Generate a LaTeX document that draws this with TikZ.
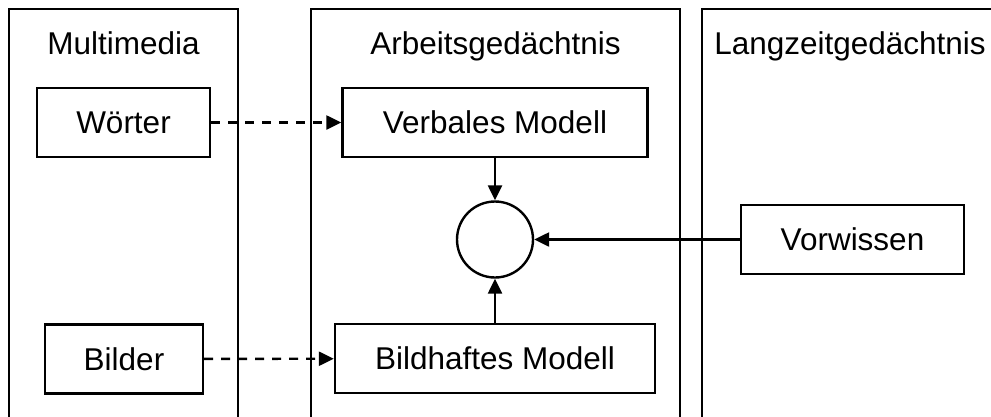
\documentclass[tikz,border=0pt]{standalone}
\usepackage{fontspec}
\setmainfont{Liberation Sans}
\usetikzlibrary{positioning}
\usetikzlibrary{arrows.meta}
\tikzset{x=1pt, y=-1pt,
column/.style={ % Sets the properties for each column
draw,
line width=2.4pt},
heading/.style={anchor=base},
box/.style={ % Sets the properties for each box
draw,
line width=2.4pt,
inner sep=0pt,
minimum height=69pt,
text height=22pt,
text depth=0pt},
mix/.style={draw, circle, line width=2.4pt, minimum size=76pt, inner sep=0pt},
dashedge/.style={dash pattern=on 9pt off 8pt},
every edge/.style={ % Sets the properties for each arrow
draw,
-{Triangle[length=15pt,width=14pt]}, % Filled arrow heads
line width=2.4pt}}
\begin{document}
\begin{tikzpicture}[font=\fontsize{31.5}{37}\selectfont]
\useasboundingbox (0,0) rectangle (991,416);
\clip (0,0) rectangle (991,416);
\draw[column] (9,9) rectangle (238,430);
\draw[column] (311,9) rectangle (680,430);
\draw[column] (702,9) rectangle (999,430);
\node[heading] (mm) at (123.5,54) {Multimedia};
\node[heading] (ag) at (495.5,54) {Arbeitsgedächtnis};
\node[heading] (lz) at (850,54) {Langzeitgedächtnis};
\node[box, minimum width=173pt] (wo) at (123.5,122.5) {Wörter};
\node[box, minimum width=158pt] (bi) at (124,359) {Bilder};
\node[box, minimum width=305pt] (vm) at (495,122.5) {Verbales Modell};
\node[box, minimum width=320pt] (bm) at (495,358.5) {Bildhaftes Modell};
\node[mix] (mx) at (495,239.5) {};
\node[box, minimum width=223pt] (vw) at (852.5,239.5) {Vorwissen};
\draw (wo) edge[dashedge] (vm);
\draw (bi) edge[dashedge] (bm);
\draw (vm) edge (mx);
\draw (bm) edge (mx);
\draw (vw) edge (mx);
\end{tikzpicture}
\end{document}
